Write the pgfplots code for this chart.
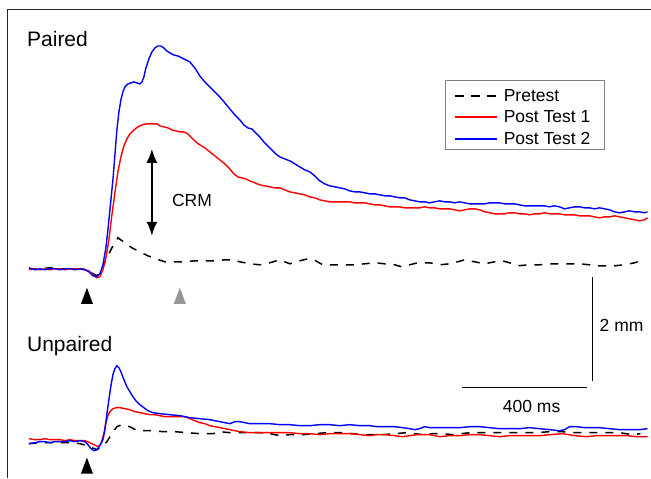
\documentclass[border=0pt]{standalone}
\usepackage{pgfplots}
\pgfplotsset{compat=1.18}
\usepackage{fontspec}
\setmainfont{Liberation Sans}
\usetikzlibrary{arrows.meta}
\definecolor{trRed}{RGB}{255,0,0}
\definecolor{trBlue}{RGB}{0,0,255}
\definecolor{triGray}{RGB}{150,150,150}
\definecolor{boxGray}{RGB}{130,130,130}
\begin{document}
\begin{tikzpicture}
\begin{axis}[
  width=651pt, height=478pt, scale only axis, hide axis,
  xmin=0, xmax=651, ymin=0, ymax=478, y dir=reverse, clip=false,
]
\path (axis cs:0,0) rectangle (axis cs:651,478);
% frame
\addplot[black!85, line width=1pt, forget plot] coordinates {(8,478)(8,10)(651,10)};
% ---------- Paired ----------
\addplot[black, line width=1.5pt, dash pattern=on 8pt off 8pt, forget plot] coordinates {
(29,269)(40,269)(50,268)(60,269)(70,269)(80,269)(88,270)(93,274)(97,276)(101,272)(106,260)(112,248)(118,238)(125,243)(132,248)(140,252)(148,256)(156,259)(165,262)(175,262)(185,262)(195,261)(205,261)(215,261)(225,260)(233,260)(240,262)(250,264)(260,265)(270,263)(280,260)(290,264)(300,261)(308,259)(316,261)(323,265)(335,265)(345,265)(355,265)(365,264)(375,263)(385,264)(395,265)(402,267)(410,265)(418,263)(430,263)(440,265)(450,264)(458,262)(465,260)(475,262)(485,264)(495,262)(503,261)(510,263)(518,266)(530,265)(540,265)(550,264)(560,264)(570,264)(580,264)(590,265)(595,266)(605,266)(615,266)(625,265)(635,263)(641,261)};
\addplot[trRed, line width=1.4pt, forget plot] coordinates {
(29,270)(35,269)(40,270)(45,269)(50,270)(55,269)(60,269)(65,270)(70,269)(75,269)(80,269)(85,270)(89,271)(93,275)(97,278)(100,277)(103,270)(106,258)(109,240)(112,215)(115,193)(118,172)(121,157)(124,146)(127,139)(130,134)(134,130)(138,127)(142,125)(146,124)(150,124)(154,124)(157,124)(160,126)(164,127)(168,128)(172,130)(176,131)(180,132)(184,132)(188,134)(192,138)(196,142)(200,145)(205,148)(210,152)(215,156)(220,160)(225,164)(230,169)(234,174)(238,177)(242,178)(246,179)(250,181)(255,183)(260,185)(265,186)(270,187)(275,188)(280,188)(285,190)(290,192)(295,193)(300,194)(305,195)(310,197)(315,198)(320,200)(325,201)(330,202)(340,202)(350,202)(355,203)(360,203)(365,203)(370,204)(375,205)(380,205)(385,206)(390,207)(395,207)(400,207)(405,208)(410,208)(415,208)(420,208)(425,207)(430,208)(435,208)(440,209)(445,209)(450,209)(455,210)(460,211)(465,210)(470,209)(475,209)(480,210)(485,212)(490,213)(495,214)(500,214)(505,214)(510,213)(515,213)(520,214)(525,214)(530,215)(535,214)(540,214)(545,213)(550,214)(555,214)(560,214)(565,215)(570,215)(575,215)(580,216)(585,216)(590,216)(595,217)(600,218)(605,217)(610,217)(615,216)(620,217)(625,218)(630,219)(635,220)(640,221)(645,220)(648,218)};
\addplot[trBlue, line width=1.4pt, forget plot] coordinates {
(29,268)(35,270)(40,269)(45,270)(50,269)(55,269)(60,270)(65,269)(70,269)(75,270)(80,269)(85,270)(89,272)(93,276)(97,277)(100,274)(103,265)(106,248)(108,230)(111,200)(113,180)(115,155)(117,130)(119,112)(121,100)(123,92)(125,87)(128,84)(131,83)(134,82)(137,83)(140,84)(142,82)(144,77)(146,68)(149,59)(152,52)(155,48)(158,46)(161,46)(164,48)(167,51)(170,53)(174,55)(178,56)(182,58)(186,60)(190,62)(195,68)(200,76)(205,82)(210,87)(215,92)(220,97)(225,103)(230,109)(235,115)(240,120)(244,125)(248,128)(252,129)(256,133)(260,137)(264,142)(268,146)(272,150)(276,154)(280,157)(285,159)(290,161)(295,164)(300,167)(305,170)(310,172)(315,176)(320,181)(325,184)(330,186)(335,187)(340,188)(345,189)(350,191)(355,192)(360,192)(365,193)(370,194)(375,194)(380,195)(385,196)(390,196)(395,197)(400,198)(405,198)(410,200)(415,201)(420,202)(425,202)(430,203)(435,202)(440,201)(445,202)(450,202)(455,203)(460,202)(465,203)(470,204)(475,204)(480,204)(485,204)(490,203)(495,203)(500,203)(505,204)(510,204)(515,204)(520,205)(525,206)(530,206)(535,206)(540,206)(545,206)(550,207)(555,206)(560,207)(565,209)(570,208)(575,207)(580,207)(585,208)(590,208)(595,209)(600,208)(605,209)(610,210)(615,212)(620,213)(625,212)(630,211)(635,212)(640,212)(645,213)(648,212)};
% ---------- Unpaired ----------
\addplot[black, line width=1.5pt, dash pattern=on 8pt off 8pt, forget plot] coordinates {
(29,444)(40,443)(50,443)(60,443)(70,443)(80,444)(87,446)(92,448)(97,450)(102,447)(107,442)(112,434)(117,427)(122,425)(127,426)(132,428)(137,431)(145,431)(153,431)(163,432)(175,432)(187,433)(200,434)(213,434)(220,432)(230,433)(240,433)(250,433)(260,433)(270,434)(280,436)(290,435)(303,435)(315,434)(327,433)(335,433)(343,433)(353,434)(363,435)(373,435)(383,435)(395,434)(407,433)(415,434)(423,435)(433,434)(443,434)(453,435)(462,434)(470,433)(480,433)(490,433)(503,433)(520,433)(537,433)(550,432)(563,432)(572,433)(580,433)(590,433)(603,433)(612,433)(620,433)(633,435)(641,434)};
\addplot[trRed, line width=1.4pt, forget plot] coordinates {
(29,439)(35,440)(40,440)(45,439)(50,440)(55,440)(60,440)(65,441)(70,440)(75,441)(80,441)(85,441)(90,443)(94,445)(98,447)(101,444)(104,434)(106,423)(108,416)(110,412)(113,409)(116,408)(120,408)(125,409)(130,410)(135,412)(140,413)(145,414)(150,415)(155,415)(160,416)(165,417)(170,417)(175,417)(180,417)(185,417)(190,419)(195,421)(200,423)(205,424)(210,426)(215,427)(220,428)(230,430)(240,432)(250,433)(260,433)(270,433)(280,433)(290,433)(300,434)(310,434)(320,435)(330,434)(340,434)(350,434)(360,435)(370,436)(377,435)(385,435)(395,436)(403,437)(410,436)(417,435)(425,435)(430,435)(440,437)(450,436)(460,436)(470,435)(480,435)(490,436)(500,437)(510,436)(520,436)(530,436)(540,436)(550,435)(563,434)(575,436)(587,437)(597,436)(607,436)(617,436)(627,436)(637,437)(648,437)};
\addplot[trBlue, line width=1.4pt, forget plot] coordinates {
(29,444)(35,443)(40,442)(45,442)(50,443)(55,442)(60,442)(65,442)(70,441)(75,442)(80,441)(85,442)(88,445)(91,449)(94,451)(97,450)(100,446)(103,440)(105,430)(107,414)(109,400)(111,386)(113,375)(115,369)(117,366)(119,368)(121,372)(124,380)(127,387)(130,392)(133,397)(136,401)(140,405)(144,408)(148,411)(153,413)(160,414)(170,415)(180,416)(190,418)(200,419)(210,420)(220,422)(225,423)(230,424)(235,422)(240,422)(245,423)(250,424)(260,424)(270,424)(280,425)(290,425)(300,426)(310,426)(320,425)(330,425)(340,426)(350,425)(360,426)(370,426)(377,427)(385,427)(395,427)(403,428)(410,429)(415,430)(420,429)(425,427)(430,428)(440,428)(450,428)(460,428)(470,427)(480,427)(490,428)(500,429)(510,429)(520,429)(530,428)(540,429)(550,430)(560,431)(565,430)(570,427)(577,427)(585,428)(593,428)(600,428)(610,429)(620,430)(630,430)(640,430)(648,429)};
% ---------- markers ----------
\addplot[fill=black, draw=none, forget plot] coordinates {(81,304)(87,288)(93,304)} -- cycle;
\addplot[fill=triGray, draw=none, forget plot] coordinates {(174,304)(180,288)(186,304)} -- cycle;
\addplot[fill=black, draw=none, forget plot] coordinates {(81,474)(87,458)(93,474)} -- cycle;
% CRM arrow
\addplot[black, line width=1.8pt, {Latex[length=14pt,width=11pt]}-{Latex[length=14pt,width=11pt]}, forget plot] coordinates {(152,149)(152,236)};
% scale bars
\addplot[black, line width=1.4pt, forget plot] coordinates {(593,277)(593,381)};
\addplot[black, line width=1.4pt, forget plot] coordinates {(462,388)(587,388)};
% ---------- legend (box, samples, labels) ----------
\addplot[boxGray, line width=0.9pt, forget plot] coordinates {(446,81)(605,81)(605,150)(446,150)} -- cycle;
\addplot[black, line width=1.5pt, dash pattern=on 9pt off 7pt, forget plot] coordinates {(455,96)(497,96)};
\addplot[trRed, line width=1.4pt, forget plot] coordinates {(455,117)(497,117)};
\addplot[trBlue, line width=1.4pt, forget plot] coordinates {(455,139)(497,139)};
\node[anchor=west, inner sep=0pt, font=\fontsize{17.5}{20}\selectfont] at (axis cs:504,96) {Pretest};
\node[anchor=west, inner sep=0pt, font=\fontsize{17.5}{20}\selectfont] at (axis cs:504,117) {Post Test 1};
\node[anchor=west, inner sep=0pt, font=\fontsize{17.5}{20}\selectfont] at (axis cs:504,139) {Post Test 2};
% texts
\node[anchor=base west, inner sep=0pt, font=\fontsize{21}{24}\selectfont] at (axis cs:27,47) {Paired};
\node[anchor=base west, inner sep=0pt, font=\fontsize{21}{24}\selectfont] at (axis cs:27,352) {Unpaired};
\node[anchor=west, inner sep=0pt, font=\fontsize{17.5}{20}\selectfont] at (axis cs:172,201) {CRM};
\node[anchor=west, inner sep=0pt, font=\fontsize{17.5}{20}\selectfont] at (axis cs:600,326) {2 mm};
\node[anchor=center, inner sep=0pt, font=\fontsize{17.5}{20}\selectfont] at (axis cs:532,407) {400 ms};
\end{axis}
\end{tikzpicture}
\end{document}
